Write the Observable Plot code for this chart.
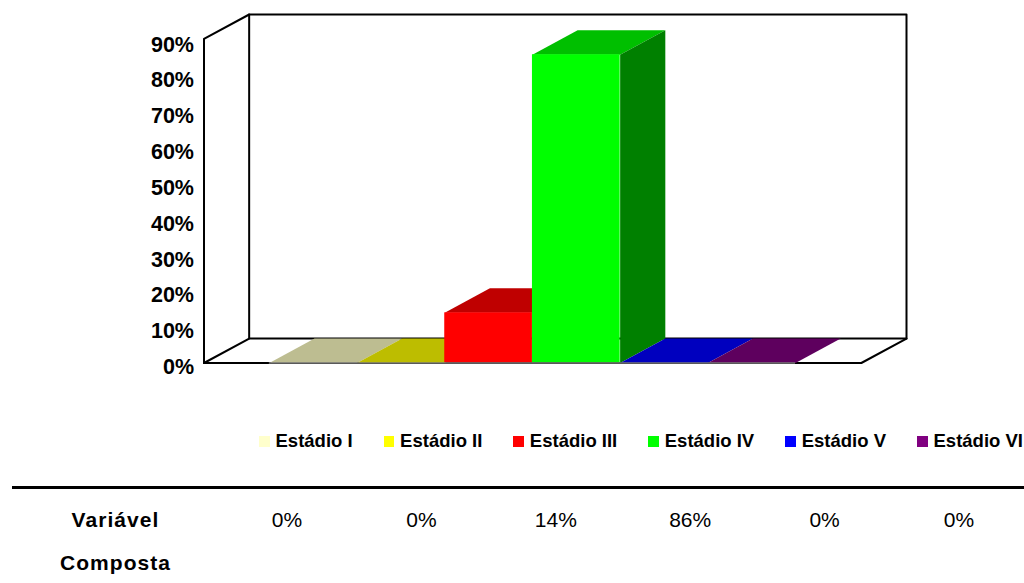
<!DOCTYPE html>
<html lang="pt">
<head>
<meta charset="utf-8">
<script src="https://cdn.jsdelivr.net/npm/d3@7"></script>
<script src="https://cdn.jsdelivr.net/npm/@observablehq/plot@0.6"></script>
<style>
  html, body { margin: 0; background: #fff; }
  body { position: relative; width: 1024px; height: 583px; overflow: hidden; font-family: "Liberation Sans", Arial, sans-serif; color: #000; }
  #chart svg { display: block; position: absolute; left: 0; top: 0; }
  #legend { position: absolute; left: 259px; top: 431px; display: flex; gap: 31px; font: bold 18.5px/20px "Liberation Sans", Arial, sans-serif; white-space: nowrap; }
  #legend span.item { display: flex; align-items: center; }
  #legend i { display: block; width: 10.5px; height: 11px; margin-right: 6px; }
  #rule { position: absolute; left: 12px; right: 0; top: 486px; height: 3px; background: #000; }
  .cell { position: absolute; top: 507px; transform: translateX(-50%); font-size: 21px; line-height: 26px; }
  .head { position: absolute; left: 115.5px; transform: translateX(-50%); font-weight: bold; font-size: 21px; letter-spacing: 1.05px; line-height: 26px; white-space: nowrap; }
</style>
</head>
<body>
<div id="chart"></div>
<div id="legend"></div>
<div id="rule"></div>
<div id="table"></div>
<script>
// Share of each stage for the composite variable
const categories = ["Estádio I", "Estádio II", "Estádio III", "Estádio IV", "Estádio V", "Estádio VI"];
const values = [0, 0, 14, 86, 0, 0];
const tickValues = [0, 10, 20, 30, 40, 50, 60, 70, 80, 90];
const rowLabel = ["Variável", "Composta"];

// Face colours of each prism
const frontColors = ["#FFFFCC", "#FFFF00", "#FF0000", "#00FF00", "#0000FF", "#800080"];
const topColors = ["#BDBD91", "#BDBD00", "#BF0000", "#00BF00", "#0000BF", "#5E005E"];
const sideColors = ["#808066", "#808000", "#800000", "#008000", "#000080", "#400040"];

// Extent of the box, and the oblique offset of its depth, in data units
const xStart = -0.745, xEnd = 6.75, depthX = 0.515;
const yTop = 90.4, depthY = 6.82;

const face = (points, fill) =>
  Plot.line(points.map(([x, y]) => ({x, y})), {x: "x", y: "y", fill, stroke: "none", curve: "linear-closed"});
const edge = (points, strokeWidth = 2) =>
  Plot.line(points.map(([x, y]) => ({x, y})), {x: "x", y: "y", stroke: "#000", strokeWidth});

// Box outline: back wall, left wall and floor
const boxMarks = [
  edge([[xStart + depthX, depthY], [xStart + depthX, yTop + depthY], [xEnd + depthX, yTop + depthY], [xEnd + depthX, depthY], [xStart + depthX, depthY]]),
  edge([[xStart, 0], [xStart, yTop], [xStart + depthX, yTop + depthY]]),
  edge([[xStart, 0], [xStart + depthX, depthY]]),
  edge([[xEnd + depthX, depthY], [xEnd, 0], [xStart, 0]])
];

// Each prism shows a top face, a side face and a front face, painted left to right
const barMarks = values.flatMap((v, i) => {
  const a = i, b = i + 1;
  const marks = [
    face([[a, v], [b, v], [b + depthX, v + depthY], [a + depthX, v + depthY]], topColors[i])
  ];
  if (v > 0) {
    marks.push(face([[b, 0], [b + depthX, depthY], [b + depthX, v + depthY], [b, v]], sideColors[i]));
    marks.push(Plot.rect([{a, b, v}], {x1: "a", x2: "b", y1: 0, y2: "v", fill: frontColors[i]}));
  }
  return marks;
});

const chart = Plot.plot({
  width: 1024,
  height: 400,
  marginLeft: 203.5,
  marginRight: 118,
  marginTop: 14,
  marginBottom: 37.5,
  style: {background: "transparent", fontFamily: "'Liberation Sans', Arial, sans-serif", overflow: "visible"},
  x: {domain: [xStart, xEnd + depthX], axis: null},
  y: {domain: [0, yTop + depthY]},
  marks: [
    ...boxMarks,
    ...barMarks,
    Plot.ruleY([0], {x1: 0, x2: 6, stroke: "#777", strokeWidth: 1.5}),
    Plot.axisY(tickValues, {
      anchor: "left", label: null, tickSize: 0, tickPadding: 10, dy: 4.3,
      tickFormat: (d) => d + "%", fontSize: 21.5, fontWeight: "bold", fill: "#000"
    })
  ]
});
document.getElementById("chart").append(chart);

// Legend row
const legend = document.getElementById("legend");
categories.forEach((name, i) => {
  const item = document.createElement("span");
  item.className = "item";
  const swatch = document.createElement("i");
  swatch.style.background = frontColors[i];
  item.append(swatch, name);
  legend.append(item);
});

// Table row under the legend, one column per stage
const table = document.getElementById("table");
rowLabel.forEach((text, i) => {
  const cell = document.createElement("div");
  cell.className = "head";
  cell.style.top = (507 + i * 43) + "px";
  cell.textContent = text;
  table.append(cell);
});
values.forEach((v, i) => {
  const cell = document.createElement("div");
  cell.className = "cell";
  cell.style.left = (287 + i * 134.4) + "px";
  cell.textContent = v + "%";
  table.append(cell);
});
</script>
</body>
</html>
